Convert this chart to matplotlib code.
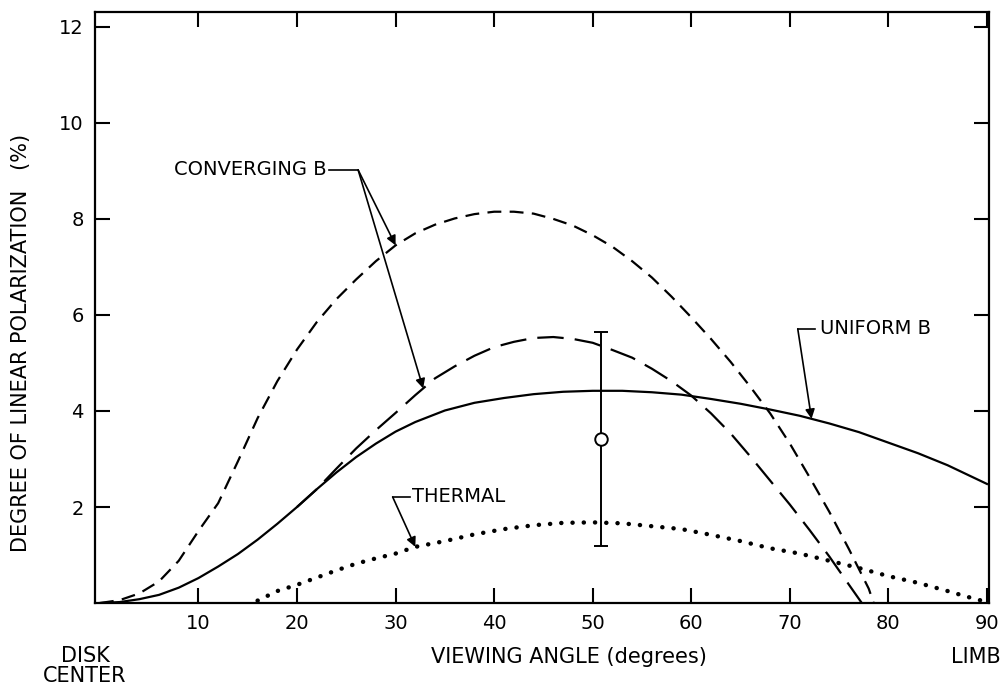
import numpy as np
import matplotlib
matplotlib.use("Agg")
import matplotlib.pyplot as plt

# values (viewing angle in degrees, polarization in %)
uniform_x = [0, 2, 4, 6, 8, 10, 12, 14, 16, 18, 20, 22, 24, 26, 28, 30, 32, 35, 38, 41,
             44, 47, 50, 53, 56, 59, 62, 65, 68, 71, 74, 77, 80, 83, 86, 90]
uniform_y = [0.0, 0.02, 0.08, 0.17, 0.32, 0.52, 0.76, 1.02, 1.32, 1.65, 2.0, 2.37, 2.72, 3.04,
             3.32, 3.57, 3.77, 4.01, 4.17, 4.27, 4.35, 4.4, 4.42, 4.42, 4.39, 4.34, 4.25, 4.15,
             4.03, 3.9, 3.74, 3.56, 3.34, 3.12, 2.87, 2.48]

conv1_x = [0, 2, 4, 6, 8, 10, 12, 14, 16, 18, 20, 22, 24, 26, 28, 30, 32, 34, 36, 38, 40,
           42, 44, 46, 48, 50, 52, 54, 56, 58, 60, 62, 64, 66, 68, 70, 72, 74, 76, 78, 78.5]
conv1_y = [0.0, 0.06, 0.2, 0.45, 0.88, 1.5, 2.08, 2.95, 3.85, 4.62, 5.28, 5.85, 6.33, 6.74,
           7.12, 7.45, 7.7, 7.88, 8.01, 8.1, 8.15, 8.15, 8.11, 8.0, 7.86, 7.66, 7.42, 7.12,
           6.78, 6.38, 5.95, 5.5, 5.02, 4.5, 3.95, 3.32, 2.62, 1.9, 1.12, 0.3, 0.0]

conv2_x = [20, 22, 24, 26, 28, 30, 32, 34, 36, 38, 40, 42, 44, 46, 48, 50, 52, 54, 56, 58,
           60, 62, 64, 66, 68, 70, 72, 74, 76, 77.3]
conv2_y = [2.0, 2.37, 2.8, 3.22, 3.6, 3.96, 4.33, 4.68, 4.93, 5.15, 5.33, 5.44, 5.52, 5.54,
           5.5, 5.42, 5.27, 5.11, 4.88, 4.62, 4.32, 3.95, 3.53, 3.05, 2.55, 2.05, 1.52, 0.97,
           0.38, 0.0]

thermal_x = [16, 18, 20, 22, 24, 26, 28, 30, 32, 35, 38, 41, 44, 47, 50, 53, 56, 59, 62,
             65, 68, 71, 74, 77, 80, 83, 86, 88, 90]
thermal_y = [0.05, 0.25, 0.38, 0.53, 0.68, 0.82, 0.93, 1.03, 1.17, 1.29, 1.43, 1.54, 1.62,
             1.67, 1.68, 1.66, 1.6, 1.54, 1.42, 1.29, 1.14, 1.03, 0.88, 0.73, 0.56, 0.42,
             0.25, 0.13, 0.02]

# observed point with error bar
obs_x = [50.8]
obs_y = [3.42]
obs_err = [2.23]

x_ticks = [10, 20, 30, 40, 50, 60, 70, 80, 90]
y_ticks = [2, 4, 6, 8, 10, 12]

plt.rcParams['font.family'] = ['DejaVu Sans']
plt.rcParams['lines.scale_dashes'] = False

fig = plt.figure(figsize=(10.07, 6.88), dpi=100)
ax = fig.add_axes([0.0943, 0.1235, 0.8878, 0.8591])

ax.plot(uniform_x, uniform_y, color='black', lw=1.6)
ax.plot(conv1_x, conv1_y, color='black', lw=1.6, linestyle=(0, (10, 6)))
ax.plot(conv2_x, conv2_y, color='black', lw=1.6, linestyle=(0, (19, 8)))
ax.plot(thermal_x, thermal_y, color='black', lw=3.2, linestyle=(0, (0.1, 8)),
        dash_capstyle='round')

ax.errorbar(obs_x, obs_y, yerr=obs_err, fmt='o', color='black', mfc='white', mec='black',
            ms=9, mew=1.4, elinewidth=1.4, capsize=4.7, capthick=1.4, zorder=5)

ax.set_xlim(-0.5, 90.2)
ax.set_ylim(0, 12.31)
ax.set_xticks(x_ticks)
ax.set_xticklabels([str(t) for t in x_ticks])
ax.set_yticks(y_ticks)
ax.set_yticklabels([str(t) for t in y_ticks])
ax.tick_params(direction='in', length=11, width=1.5, top=True, right=True,
               labelsize=14, pad=8)
for s in ax.spines.values():
    s.set_linewidth(1.6)

ax.set_ylabel('DEGREE OF LINEAR POLARIZATION   (%)', fontsize=15)
ax.yaxis.set_label_coords(-0.071, 0.44)
ax.set_xlabel('VIEWING ANGLE (degrees)', fontsize=15, va='center')
ax.xaxis.set_label_coords(0.53, -0.091)

fig.text(85 / 1007, 1 - 666 / 688, 'DISK\nCENTER', ha='center', va='center',
         fontsize=15, linespacing=1.05)
fig.text(976 / 1007, 1 - 657 / 688, 'LIMB', ha='center', va='center', fontsize=15)

arrow = dict(arrowstyle='-|>', color='black', lw=1.2, mutation_scale=14,
             shrinkA=0, shrinkB=0)

# CONVERGING B label with two arrows
ax.text(23.0, 9.02, 'CONVERGING B', ha='right', va='center', fontsize=14)
ax.plot([23.25, 26.2], [9.02, 9.02], color='black', lw=1.2)
for xt, xs, ys in [(30.0, conv1_x, conv1_y), (32.8, conv2_x, conv2_y)]:
    ax.annotate('', xy=(xt, np.interp(xt, xs, ys)), xytext=(26.2, 9.02), arrowprops=arrow)

# UNIFORM B
ax.text(73.1, 5.71, 'UNIFORM B', ha='left', va='center', fontsize=14)
ax.plot([70.8, 72.6], [5.71, 5.71], color='black', lw=1.2)
ax.annotate('', xy=(72.2, np.interp(72.2, uniform_x, uniform_y)), xytext=(70.8, 5.71),
            arrowprops=arrow)

# THERMAL
ax.text(31.7, 2.21, 'THERMAL', ha='left', va='center', fontsize=14)
ax.plot([29.7, 31.5], [2.21, 2.21], color='black', lw=1.2)
ax.annotate('', xy=(32.0, np.interp(32.0, thermal_x, thermal_y)), xytext=(29.7, 2.21),
            arrowprops=arrow)

fig.savefig('out.png', dpi=100)
